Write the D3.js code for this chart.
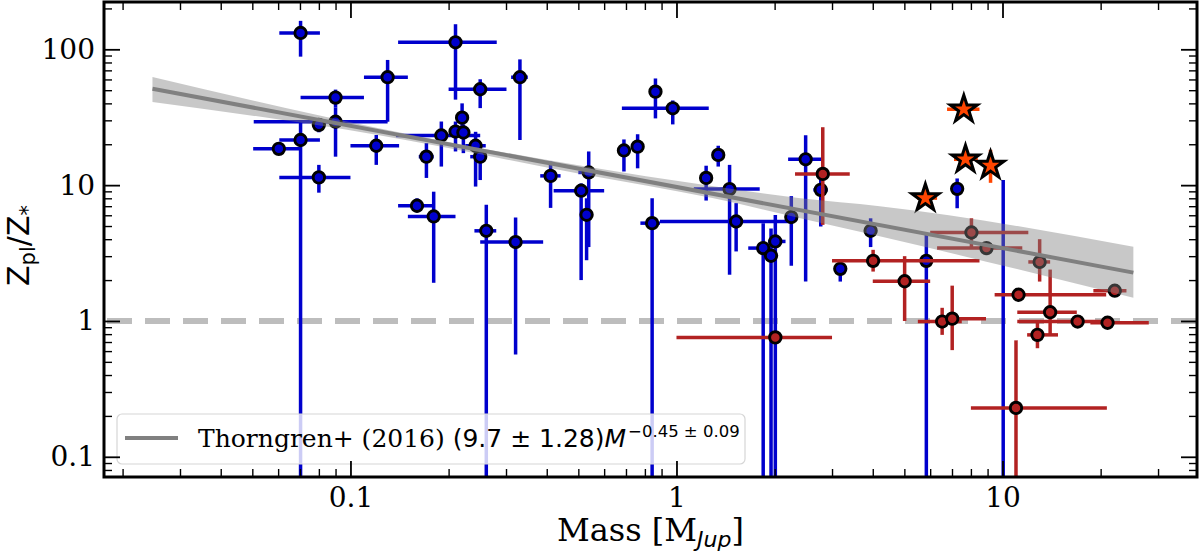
<!DOCTYPE html>
<html>
<head>
<meta charset="utf-8">
<script src="https://cdn.jsdelivr.net/npm/d3@7"></script>
<style>
  html, body { margin: 0; padding: 0; background: #fff; }
  svg text { fill: #000; }
</style>
</head>
<body>
<svg id="chart" width="1200" height="553"></svg>
<script>
// [mass, Z, massLo, massHi, zLo, zHi]  (zLo 0.01 = bar runs off the bottom)
var bluePoints = [
	[0.0703, 132, 0.0605, 0.0806, 88.3, 162],
	[0.130, 62.3, 0.110, 0.150, 29.3, 83.5],
	[0.090, 44.1, 0.0703, 0.110, 37.4, 50.5],
	[0.090, 29.3, 0.0505, 0.130, 16.2, 37.4],
	[0.080, 27.8, 0.080, 0.080, 24.5, 30.0],
	[0.0703, 21.5, 0.0605, 0.0806, 0.01, 29.3],
	[0.0603, 18.5, 0.0503, 0.0703, 17.0, 20.0],
	[0.080, 11.4, 0.0605, 0.100, 8.8, 14.1],
	[0.120, 19.5, 0.100, 0.141, 14.1, 23.4],
	[0.210, 112.6, 0.140, 0.281, 42.6, 153],
	[0.331, 62.3, 0.311, 0.350, 21.5, 84.3],
	[0.250, 50.8, 0.200, 0.301, 36.9, 60.2],
	[0.220, 31.4, 0.215, 0.225, 24.0, 40.0],
	[0.210, 24.8, 0.210, 0.210, 17.7, 29.4],
	[0.222, 24.4, 0.222, 0.222, 17.2, 28.0],
	[0.190, 23.2, 0.138, 0.250, 13.7, 29.4],
	[0.242, 19.5, 0.225, 0.260, 9.76, 24.7],
	[0.250, 16.2, 0.233, 0.259, 10.9, 18.2],
	[0.171, 16.2, 0.162, 0.180, 11.3, 20.4],
	[0.411, 11.7, 0.382, 0.441, 6.8, 14.9],
	[0.538, 12.4, 0.50, 0.56, 3.5, 17.7],
	[0.510, 9.1, 0.42, 0.60, 2.0, 10.3],
	[0.530, 6.05, 0.53, 0.53, 2.8, 8.0],
	[0.690, 18.0, 0.690, 0.690, 12.6, 21.7],
	[0.760, 19.2, 0.760, 0.760, 13.3, 23.7],
	[0.862, 48.8, 0.862, 0.862, 31.0, 61.0],
	[0.974, 36.8, 0.68, 1.256, 28.0, 42.0],
	[1.343, 16.7, 1.343, 1.343, 13.7, 19.5],
	[1.233, 11.3, 1.233, 1.233, 7.7, 13.9],
	[1.455, 9.35, 1.13, 1.80, 2.19, 14.1],
	[0.842, 5.25, 0.775, 0.89, 0.01, 8.0],
	[1.524, 5.4, 0.89, 2.24, 3.25, 7.37],
	[1.845, 3.44, 1.66, 1.90, 0.01, 5.25],
	[2.01, 3.85, 1.91, 2.16, 0.01, 6.04],
	[1.95, 3.02, 1.95, 1.95, 0.01, 4.8],
	[2.25, 5.82, 2.25, 2.25, 2.55, 8.3],
	[2.49, 15.5, 2.2, 2.8, 1.95, 23.3],
	[2.77, 9.23, 2.63, 2.91, 4.96, 12.3],
	[3.94, 4.61, 3.94, 3.94, 3.5, 5.7],
	[3.18, 2.42, 3.18, 3.18, 1.95, 2.68],
	[5.84, 2.77, 5.84, 5.84, 0.01, 4.3],
	[7.26, 9.39, 7.26, 7.26, 6.76, 11.2],
	[0.160, 7.05, 0.14, 0.18, 6.3, 8.0],
	[0.180, 5.88, 0.15, 0.21, 1.91, 8.95],
	[0.261, 4.61, 0.24, 0.28, 0.01, 7.17],
	[0.321, 3.81, 0.25, 0.39, 0.566, 5.78]
];

// a blue error bar whose marker is hidden behind the stars: [mass, zLo, zHi]
var blueBare = [
	[10.05, 0.01, 10.9]
];

var redPoints = [
	[2.81, 12.1, 2.31, 3.40, 5.1, 26.7],
	[4.01, 2.77, 3.0, 8.5, 2.31, 3.34],
	[8.03, 4.48, 6.0, 12.0, 3.5, 5.7],
	[8.93, 3.44, 6.3, 11.5, 3.44, 3.44],
	[13.0, 2.72, 12.0, 14.0, 1.95, 4.0],
	[5.01, 1.96, 4.0, 6.0, 1.0, 3.0],
	[6.53, 0.99, 5.5, 7.5, 0.79, 1.25],
	[7.01, 1.04, 6.8, 8.9, 0.61, 1.82],
	[11.2, 1.56, 9.46, 20.8, 1.56, 1.56],
	[14.0, 1.16, 11.1, 16.9, 0.79, 2.39],
	[12.8, 0.79, 11.9, 14.8, 0.63, 0.99],
	[17.0, 0.99, 11.1, 21.0, 0.99, 0.99],
	[21.0, 0.97, 18.6, 28.1, 0.97, 0.97],
	[22.1, 1.67, 19.0, 24.0, 1.6, 1.75],
	[11.0, 0.229, 8.0, 20.9, 0.01, 0.72],
	[2.01, 0.757, 1.0, 3.0, 0.757, 0.757]
];

var starPoints = [
	[7.61, 36.2, 6.76, 8.5, 36.2, 36.2],
	[7.70, 15.5, 7.1, 8.4, 15.5, 15.5],
	[9.19, 13.9, 9.19, 9.19, 10.4, 18.2],
	[5.80, 8.03, 5.47, 6.3, 8.03, 8.03]
];

// Thorngren+ (2016) relation, end points and its uncertainty band
var fitMass = [0.0247, 25.2];
var fitZ = [51.3, 2.27];
var bandMass = [0.0247, 0.12, 0.5, 1.3, 2.4, 4.2, 25.2];
var bandHi = [62.6, 26.5, 14.0, 9.8, 8.0, 7.0, 3.52];
var bandLo = [41.0, 23.5, 12.2, 8.0, 5.7, 4.2, 1.48];

var solarLine = 1;

var xMajor = [0.1, 1, 10];
var xMajorLabels = ['0.1', '1', '10'];
var yMajor = [0.1, 1, 10, 100];
var yMajorLabels = ['0.1', '1', '10', '100'];

var legendText = 'Thorngren+ (2016) ';
var legendMath = '(9.7 \u00b1 1.28)';
var legendExp = '\u22120.45 \u00b1 0.09';

var serif = "'DejaVu Serif', serif";
var sans = "'DejaVu Sans', sans-serif";

var margin = {left: 104, right: 1197, top: 2, bottom: 477};

var svg = d3.select('#chart');

var x = d3.scaleLog()
	.domain([0.01754, 39.5])
	.range([margin.left, margin.right]);

var y = d3.scaleLog()
	.domain([0.071, 223])
	.range([margin.bottom, margin.top]);

svg.append('defs').append('clipPath')
	.attr('id', 'plotclip')
	.append('rect')
	.attr('x', margin.left).attr('y', margin.top)
	.attr('width', margin.right - margin.left).attr('height', margin.bottom - margin.top);

var plot = svg.append('g').attr('clip-path', 'url(#plotclip)');

// dashed Z = 1 line
plot.append('line')
	.attr('x1', margin.left).attr('x2', margin.right)
	.attr('y1', y(solarLine)).attr('y2', y(solarLine))
	.attr('stroke', '#bdbdbd')
	.attr('stroke-width', 6)
	.attr('stroke-dasharray', '25 13')
	.attr('stroke-dashoffset', -3);

function errorbars(data, color) {
	var g = plot.append('g')
		.attr('stroke', color)
		.attr('stroke-width', 3.5);
	data.forEach(function(d) {
		if (d[4] != d[5]) {
			g.append('line')
				.attr('x1', x(d[0])).attr('x2', x(d[0]))
				.attr('y1', y(d[4])).attr('y2', y(d[5]));
		}
		if (d[2] != d[3]) {
			g.append('line')
				.attr('x1', x(d[2])).attr('x2', x(d[3]))
				.attr('y1', y(d[1])).attr('y2', y(d[1]));
		}
	});
}

function circles(data, color) {
	plot.append('g')
		.selectAll('circle')
		.data(data)
		.enter()
		.append('circle')
		.attr('cx', function(d) { return x(d[0]); })
		.attr('cy', function(d) { return y(d[1]); })
		.attr('r', 5.7)
		.attr('fill', color)
		.attr('stroke', '#000')
		.attr('stroke-width', 2.9);
}

errorbars(bluePoints, '#0000cd');
plot.append('g')
	.attr('stroke', '#0000cd')
	.attr('stroke-width', 3.5)
	.selectAll('line')
	.data(blueBare)
	.enter()
	.append('line')
	.attr('x1', function(d) { return x(d[0]); })
	.attr('x2', function(d) { return x(d[0]); })
	.attr('y1', function(d) { return y(d[1]); })
	.attr('y2', function(d) { return y(d[2]); });
circles(bluePoints, '#0000cd');

errorbars(redPoints, '#b22222');
circles(redPoints, '#b22222');

errorbars(starPoints, '#ff4500');
plot.append('g')
	.selectAll('path')
	.data(starPoints)
	.enter()
	.append('path')
	.attr('d', d3.symbol().type(d3.symbolStar).size(225))
	.attr('transform', function(d) { return 'translate(' + x(d[0]) + ',' + y(d[1]) + ')'; })
	.attr('fill', '#ff4500')
	.attr('stroke', '#000')
	.attr('stroke-width', 3)
	.attr('stroke-linejoin', 'miter');

// fit band + line
var band = bandMass.map(function(m, i) { return {m: m, lo: bandLo[i], hi: bandHi[i]}; });
plot.append('path')
	.datum(band)
	.attr('d', d3.area()
		.x(function(d) { return x(d.m); })
		.y0(function(d) { return y(d.lo); })
		.y1(function(d) { return y(d.hi); })
		.curve(d3.curveMonotoneX))
	.attr('fill', '#808080')
	.attr('fill-opacity', 0.43);

plot.append('path')
	.datum(fitMass.map(function(m, i) { return [m, fitZ[i]]; }))
	.attr('d', d3.line()
		.x(function(d) { return x(d[0]); })
		.y(function(d) { return y(d[1]); }))
	.attr('fill', 'none')
	.attr('stroke', '#808080')
	.attr('stroke-width', 4);

// legend
var leg = svg.append('g');
leg.append('rect')
	.attr('x', 117).attr('y', 414)
	.attr('width', 628).attr('height', 50)
	.attr('rx', 5)
	.attr('fill', '#fff').attr('fill-opacity', 0.8)
	.attr('stroke', '#d6d6d6').attr('stroke-width', 1.2);
leg.append('line')
	.attr('x1', 125).attr('x2', 178)
	.attr('y1', 438).attr('y2', 438)
	.attr('stroke', '#808080').attr('stroke-width', 4);
var lt = leg.append('text')
	.attr('x', 198).attr('y', 447)
	.style('font-family', serif)
	.style('font-size', '25px');
lt.append('tspan').text(legendText);
lt.append('tspan').style('font-family', sans).text(legendMath);
lt.append('tspan').style('font-family', sans).style('font-style', 'italic').text('M');
lt.append('tspan')
	.attr('dx', 2).attr('dy', -10)
	.style('font-family', sans).style('font-size', '16.5px')
	.text(legendExp);

// axes: ticks point inward on all four sides
function minorTicks(lo, hi) {
	var t = [];
	for (var e = lo; e <= hi; e++) {
		for (var k = 2; k <= 9; k++) t.push(k * Math.pow(10, e));
	}
	return t;
}
var xMinor = minorTicks(-2, 1).filter(function(v) { return v >= x.domain()[0] && v <= x.domain()[1]; });
var yMinor = minorTicks(-2, 2).filter(function(v) { return v >= y.domain()[0] && v <= y.domain()[1]; });

function styleAxis(g, w) {
	g.select('.domain').remove();
	g.selectAll('.tick line').attr('stroke', '#000').attr('stroke-width', w);
}

var axes = svg.append('g');

axes.append('g')
	.attr('transform', 'translate(0,' + margin.bottom + ')')
	.call(d3.axisBottom(x).tickValues(xMajor).tickSize(-16).tickPadding(10)
		.tickFormat(function(d, i) { return xMajorLabels[i]; }))
	.call(styleAxis, 1.8)
	.selectAll('text')
	.style('font-family', serif).style('font-size', '28px');
axes.append('g')
	.attr('transform', 'translate(0,' + margin.bottom + ')')
	.call(d3.axisBottom(x).tickValues(xMinor).tickSize(-8).tickFormat(''))
	.call(styleAxis, 1.4);
axes.append('g')
	.attr('transform', 'translate(0,' + margin.top + ')')
	.call(d3.axisTop(x).tickValues(xMajor).tickSize(-16).tickFormat(''))
	.call(styleAxis, 1.8);
axes.append('g')
	.attr('transform', 'translate(0,' + margin.top + ')')
	.call(d3.axisTop(x).tickValues(xMinor).tickSize(-8).tickFormat(''))
	.call(styleAxis, 1.4);

axes.append('g')
	.attr('transform', 'translate(' + margin.left + ',0)')
	.call(d3.axisLeft(y).tickValues(yMajor).tickSize(-16).tickPadding(9)
		.tickFormat(function(d, i) { return yMajorLabels[i]; }))
	.call(styleAxis, 1.8)
	.selectAll('text')
	.style('font-family', serif).style('font-size', '28px');
axes.append('g')
	.attr('transform', 'translate(' + margin.left + ',0)')
	.call(d3.axisLeft(y).tickValues(yMinor).tickSize(-8).tickFormat(''))
	.call(styleAxis, 1.4);
axes.append('g')
	.attr('transform', 'translate(' + margin.right + ',0)')
	.call(d3.axisRight(y).tickValues(yMajor).tickSize(-16).tickFormat(''))
	.call(styleAxis, 1.8);
axes.append('g')
	.attr('transform', 'translate(' + margin.right + ',0)')
	.call(d3.axisRight(y).tickValues(yMinor).tickSize(-8).tickFormat(''))
	.call(styleAxis, 1.4);

// frame
svg.append('rect')
	.attr('x', margin.left).attr('y', margin.top)
	.attr('width', margin.right - margin.left).attr('height', margin.bottom - margin.top)
	.attr('fill', 'none')
	.attr('stroke', '#000')
	.attr('stroke-width', 3);

// axis titles
var xt = svg.append('text')
	.attr('x', (margin.left + margin.right) / 2).attr('y', 541)
	.attr('text-anchor', 'middle')
	.style('font-family', serif)
	.style('font-size', '32px');
xt.append('tspan').text('Mass [M');
xt.append('tspan')
	.attr('dy', 6)
	.style('font-family', sans).style('font-style', 'italic').style('font-size', '22px')
	.text('Jup');
xt.append('tspan').attr('dy', -6).text(']');

var yt = svg.append('text')
	.attr('transform', 'translate(29,' + ((margin.top + margin.bottom) / 2 + 6) + ') rotate(-90)')
	.attr('text-anchor', 'middle')
	.style('font-family', sans)
	.style('font-size', '30px');
yt.append('tspan').text('Z');
yt.append('tspan').attr('dy', 6).style('font-size', '21px').text('pl');
yt.append('tspan').attr('dy', -6).text('/Z');
yt.append('tspan').attr('dy', 6).style('font-size', '21px').text('*');
</script>
</body>
</html>
